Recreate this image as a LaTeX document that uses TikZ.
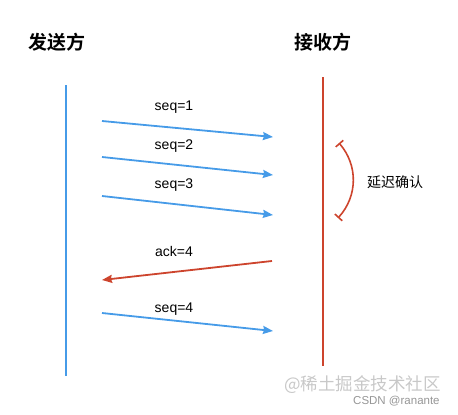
\documentclass[tikz,border=0pt]{standalone}
\usepackage{fontspec}
\setmainfont{Liberation Sans}
\newfontfamily\cjk{Noto Sans CJK SC}
\newfontfamily\cjkb{Noto Sans CJK SC Bold}
\usetikzlibrary{arrows.meta}
\definecolor{bl}{RGB}{70,155,232}
\definecolor{rd}{RGB}{205,68,45}
\definecolor{wm}{RGB}{200,200,200}
\tikzset{
  title/.style={font=\cjkb\fontsize{19}{21}\selectfont, inner sep=0pt},
  msg/.style={font=\fontsize{14}{16}\selectfont, inner sep=0pt},
  lifeb/.style={draw=bl, line width=1.8pt},
  lifer/.style={draw=rd, line width=1.8pt},
  sendarr/.style={draw=bl, line width=1.8pt, -{Stealth[length=10pt,width=8pt,inset=1pt]}},
  ackarr/.style={draw=rd, line width=1.8pt, -{Stealth[length=10pt,width=8pt,inset=1pt]}},
}
\begin{document}
\begin{tikzpicture}[x=1pt,y=-1pt]
\useasboundingbox (0,0) rectangle (458,415);
\node[title] (t1) at (57,42) {发送方};
\node[title] (t2) at (323,42) {接收方};
\coordinate (s0) at (66,85); \coordinate (s1) at (66,376);
\coordinate (r0) at (323,77); \coordinate (r1) at (323,366);
\draw[lifeb] (s0) -- (s1);
\draw[lifer] (r0) -- (r1);
% seq=1
\coordinate (a1) at (102,121); \coordinate (b1) at (273,137);
\draw[sendarr] (a1) -- (b1);
\node[msg] (l1) at (174,107) {seq=1};
\coordinate (a2) at (102,157); \coordinate (b2) at (273,175);
\draw[sendarr] (a2) -- (b2);
\node[msg] (l2) at (174,146) {seq=2};
\coordinate (a3) at (102,196); \coordinate (b3) at (273,215);
\draw[sendarr] (a3) -- (b3);
\node[msg] (l3) at (174,185) {seq=3};
\coordinate (a4) at (272,261); \coordinate (b4) at (102,280);
\draw[ackarr] (a4) -- (b4);
\node[msg] (l4) at (174,251) {ack=4};
\coordinate (a5) at (102,313); \coordinate (b5) at (273,331);
\draw[sendarr] (a5) -- (b5);
\node[msg] (l5) at (174,309) {seq=4};
% delayed ack bracket
\coordinate (c0) at (339,143); \coordinate (c1) at (338,218);
\draw[draw=rd, line width=1.6pt, {Bar[width=10pt]}-{Bar[width=10pt]}] (c0) .. controls (358,165) and (358,196) .. (c1);
\node[font=\cjk\fontsize{14}{16}\selectfont, inner sep=0pt, anchor=west] (dl) at (367,182) {延迟确认};
% watermark
\node[font=\cjk\fontsize{17.5}{19}\selectfont, text=wm, inner sep=0pt, anchor=west] (w1) at (284,385) {@稀土掘金技术社区};
\node[font=\fontsize{11.5}{13}\selectfont, text=wm!75!black, inner sep=0pt, anchor=west] (w2) at (353,401) {CSDN @ranante};
\end{tikzpicture}
\end{document}
